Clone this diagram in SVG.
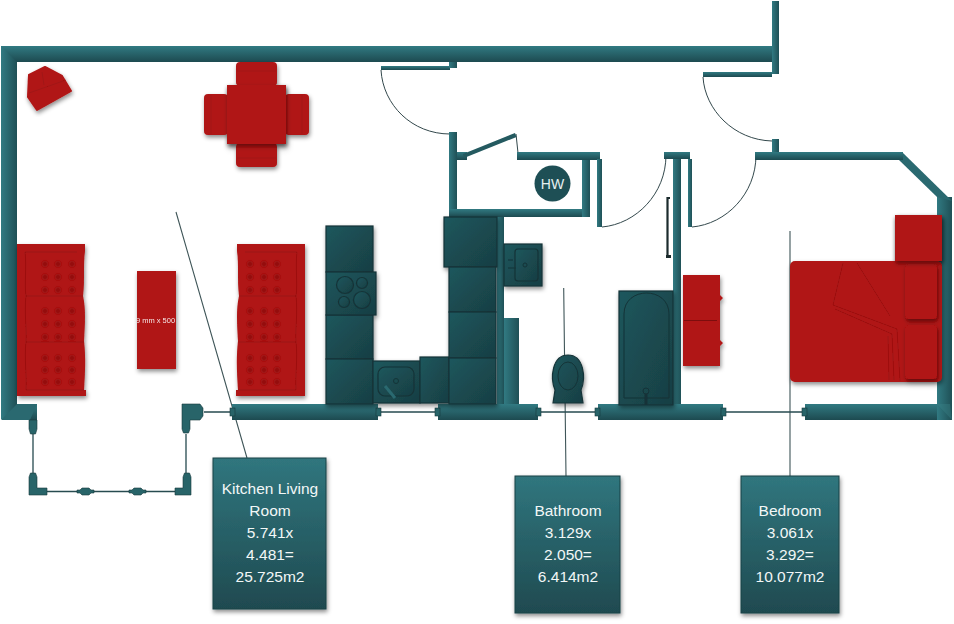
<svg xmlns="http://www.w3.org/2000/svg" width="954" height="624" viewBox="0 0 954 624">
<style>
.wh{fill:url(#wallH)}
.wv{fill:url(#wallV)}
.bev{fill:#3a8188;opacity:.4}
.red{fill:#b01414}
.redl{fill:none;stroke:#7d0c0c;stroke-width:1}
.cab{fill:url(#cab);stroke:#143337;stroke-width:1.2}
.cabl{fill:none;stroke:#143337;stroke-width:1}
.thin{fill:none;stroke:#274b50;stroke-width:1.3}
.arc{fill:none;stroke:#33484c;stroke-width:1}
.lead{fill:none;stroke:#3f5558;stroke-width:1.1}
.lbl{font-family:"Liberation Sans",Arial,sans-serif;font-size:15.500px;fill:#f2f7f7;text-anchor:middle}
.box{fill:url(#lab);stroke:#1b4247;stroke-width:1}
.joint{fill:#286469;stroke:#17393d;stroke-width:.6}
</style>
<defs>
<linearGradient id="wallH" x1="0" y1="0" x2="0" y2="1"><stop offset="0" stop-color="#317a82"/><stop offset="1" stop-color="#1d4a50"/></linearGradient>
<linearGradient id="wallV" x1="0" y1="0" x2="1" y2="0"><stop offset="0" stop-color="#317a82"/><stop offset="1" stop-color="#1f5056"/></linearGradient>
<linearGradient id="cab" x1="0" y1="0" x2="1" y2="1"><stop offset="0" stop-color="#1d575d"/><stop offset="1" stop-color="#183e43"/></linearGradient>
<linearGradient id="lab" x1="0" y1="0" x2="0" y2="1"><stop offset="0" stop-color="#30767e"/><stop offset="1" stop-color="#1f4a50"/></linearGradient>
<filter id="sh" x="-15%" y="-15%" width="130%" height="130%"><feDropShadow dx="1" dy="2.500" stdDeviation="2" flood-color="#000" flood-opacity=".45"/></filter>
<filter id="soft" x="-20%" y="-20%" width="140%" height="140%"><feGaussianBlur stdDeviation="1"/></filter>
<clipPath id="tableClip"><rect x="137" y="271" width="39" height="98"/></clipPath>
<g id="sofa">
<path class="red" d="M0 0H68V7C66 20 68 35 66 52C69 65 68 80 67 97C69 115 68 130 67 146H69V152H0Z"/>
<path class="redl" d="M8 8H60M8 8C10 25 7 38 9 52C7 70 10 84 9 98C7 115 10 130 9 146H67M9 52H66M9 98H67" stroke-opacity=".4"/>
<g fill="#7d0c0c" opacity=".55" filter="url(#soft)">
<circle cx="28" cy="20" r="3"/><circle cx="41" cy="20" r="3"/><circle cx="55" cy="20" r="3"/>
<circle cx="28" cy="33" r="3"/><circle cx="41" cy="33" r="3"/><circle cx="55" cy="33" r="3"/>
<circle cx="28" cy="46" r="3"/><circle cx="41" cy="46" r="3"/><circle cx="55" cy="46" r="3"/>
<circle cx="28" cy="67" r="3"/><circle cx="41" cy="67" r="3"/><circle cx="55" cy="67" r="3"/>
<circle cx="28" cy="80" r="3"/><circle cx="41" cy="80" r="3"/><circle cx="55" cy="80" r="3"/>
<circle cx="28" cy="93" r="3"/><circle cx="41" cy="93" r="3"/><circle cx="55" cy="93" r="3"/>
<circle cx="28" cy="114" r="3"/><circle cx="41" cy="114" r="3"/><circle cx="55" cy="114" r="3"/>
<circle cx="28" cy="126" r="3"/><circle cx="41" cy="126" r="3"/><circle cx="55" cy="126" r="3"/>
<circle cx="28" cy="138" r="3"/><circle cx="41" cy="138" r="3"/><circle cx="55" cy="138" r="3"/>
</g>
</g>
<path id="mid" class="joint" d="M0 2H3L5 0H12L14 2H17V5H14L12 7H5L3 5H0Z"/>
</defs>
<rect width="954" height="624" fill="#fff"/>

<g id="connectors">
<path class="lead" d="M176 212L247 458M563.700 288L566 476M790 231V476"/>
<path class="thin" d="M33 432V474M186 434V474M47 491.500H178M204 412H231M378 412H438M538 412H598M723 412H805"/>
<path class="arc" d="M381 70C383 105 412 134 450 134M703 77C705 110 734 140 772 141M602 227C636 224 666 194 666 155M692 227C726 224 756 194 756 155M516 134L518 153"/>
</g>

<g id="walls">
<rect class="wh" x="1" y="46" width="771" height="16"/>
<rect class="wv" x="1" y="46" width="16" height="373"/>
<path d="M1 46L17 62H60V46Z" class="wh"/>
<rect class="wh" x="17" y="404" width="20" height="16"/>
<path d="M1 420L17 404H37L30 420Z" fill="#2a6970"/>
<rect class="wh" x="232" y="404" width="146" height="16"/>
<rect class="wh" x="438" y="404" width="100" height="16"/>
<rect class="wh" x="598" y="404" width="125" height="16"/>
<rect class="wh" x="805" y="404" width="147" height="16"/>
<rect class="wv" x="937" y="197" width="15" height="223"/>
<path class="bev" d="M952 420L937 404H950Z"/>
<path d="M902 152L952 201L937 197L899 160Z" fill="#2a6970"/>
<rect class="wh" x="755" y="152" width="148" height="8"/>
<rect class="wv" x="772" y="1" width="7" height="73"/>
<rect class="wh" x="703" y="72" width="69" height="5"/>
<rect class="wv" x="772" y="139" width="7" height="13"/>
<rect class="wh" x="381" y="66" width="69" height="4"/>
<rect class="wv" x="449" y="62" width="8" height="6"/>
<rect class="wv" x="449" y="132" width="8" height="85"/>
<rect class="wh" x="449" y="209" width="141" height="8"/>
<rect class="wv" x="582" y="159" width="8" height="58"/>
<rect class="wh" x="517" y="152" width="83" height="8"/>
<rect class="wh" x="457" y="152" width="10" height="8"/>
<path d="M463 154L515 133L516.500 137L464 158Z" fill="#245a60"/>
<rect class="wv" x="597" y="159" width="5" height="68"/>
<rect class="wh" x="664" y="152" width="26" height="7"/>
<rect class="wv" x="673" y="159" width="8" height="245"/>
<rect class="wv" x="688" y="159" width="4" height="68"/>
<rect class="wv" x="497" y="217" width="7" height="187"/>
<rect class="wv" x="504" y="318" width="15" height="86"/>
<path d="M667.500 258V198H670" fill="none" stroke="#1c2b2d" stroke-width="2.200"/>
<rect x="666" y="255" width="5" height="3" fill="#1c2b2d"/>
<path class="joint" d="M29 420H37V429L35.500 434H30.500L29 429Z"/>
<path class="joint" d="M30.500 473H35.500L37 477V488H47V495H29V477Z"/>
<path class="joint" d="M182 404H200L203 408V416L200 420H190V429L188.500 433H183.500L182 429Z"/>
<path class="joint" d="M184.500 473H189.500L191 477V495H175V488H183V477Z"/>
<use href="#mid" x="77" y="488"/>
<use href="#mid" x="129" y="488"/>
<rect class="joint" x="230" y="408" width="5" height="8"/>
<rect class="joint" x="376" y="408" width="5" height="8"/>
<rect class="joint" x="435" y="408" width="5" height="8"/>
<rect class="joint" x="536" y="408" width="5" height="8"/>
<rect class="joint" x="595" y="408" width="5" height="8"/>
<rect class="joint" x="721" y="408" width="5" height="8"/>
<rect class="joint" x="802" y="408" width="5" height="8"/>
</g>

<g id="hw">
<circle cx="552.500" cy="183.500" r="18" fill="#1e4f55"/>
<text x="552.500" y="188.500" font-family="'Liberation Sans',Arial,sans-serif" font-size="14" fill="#e6f0f0" text-anchor="middle">HW</text>
</g>

<g id="kitchen" filter="url(#sh)">
<rect class="cab" x="326" y="226" width="47" height="46"/>
<rect class="cab" x="326" y="315" width="47" height="44"/>
<rect class="cab" x="326" y="359" width="47" height="45"/>
<rect class="cab" x="326" y="272" width="50" height="43"/>
<circle cx="345" cy="285" r="8.500" class="cab"/><circle cx="362" cy="283" r="5.500" class="cab"/><circle cx="344" cy="302" r="5.500" class="cab"/><circle cx="362" cy="300" r="8.500" class="cab"/>
<rect class="cab" x="373" y="361" width="47" height="42"/>
<rect class="cab" x="378" y="367" width="36" height="29" rx="7"/>
<circle cx="396" cy="381" r="2.500" class="cabl"/><path d="M385 386L395 398" stroke="#2a6970" stroke-width="3"/>
<rect class="cab" x="420" y="357" width="29" height="46"/>
<rect class="cab" x="444" y="217" width="53" height="50"/>
<rect class="cab" x="449" y="267" width="47" height="45"/>
<rect class="cab" x="449" y="312" width="47" height="46"/>
<rect class="cab" x="449" y="358" width="47" height="46"/>
<rect class="cab" x="504" y="244" width="38" height="42"/>
<rect class="cab" x="515" y="249" width="23" height="32" rx="3"/>
<circle cx="525" cy="265" r="2" class="cabl"/><path d="M508 260H513M508 268H516" class="cabl"/>
</g>

<g id="bath" filter="url(#sh)">
<rect class="cab" x="619" y="291" width="54" height="114"/>
<path class="cabl" d="M624 398V314C624 286 669 286 669 314V398Z"/>
<circle cx="646" cy="391" r="3" class="cabl"/><path d="M646 394V405" stroke="#143337" stroke-width="3"/>
</g>

<g id="toilet" filter="url(#sh)">
<path class="cab" d="M553 403L555 390C550 378 552 355 568 355C584 355 586 378 581 390L583 403Z"/>
<ellipse cx="568" cy="376" rx="10" ry="14" class="cabl"/>
</g>

<g id="armchair" filter="url(#sh)">
<path class="red" stroke="#b01414" stroke-width="2" stroke-linejoin="round" d="M29 75L45 67L62 76L71 91L37 110L28 97Z"/>
<path class="redl" d="M29 93L66 80M42 72L44 85" stroke-opacity=".3"/>
</g>

<g id="dining" filter="url(#sh)">
<rect class="red" x="236" y="62" width="41" height="24" rx="4"/>
<rect class="red" x="236" y="143" width="41" height="24" rx="4"/>
<rect class="red" x="204" y="94" width="24" height="41" rx="4"/>
<rect class="red" x="285" y="94" width="24" height="41" rx="4"/>
<rect class="red" x="227" y="85" width="59" height="59" filter="url(#sh)"/>
<path class="redl" d="M237 71H276M237 158H276M211 95V134M302 95V134" stroke-opacity=".25"/>
</g>

<g id="sofa-left" filter="url(#sh)"><use href="#sofa" transform="translate(17 244)"/></g>
<g id="sofa-right" filter="url(#sh)"><use href="#sofa" transform="translate(305 244) scale(-1 1)"/></g>

<g id="coffee-table" filter="url(#sh)">
<rect class="red" x="137" y="271" width="39" height="98"/>
<text x="155.500" y="323" clip-path="url(#tableClip)" font-family="'Liberation Sans',Arial,sans-serif" font-size="7.500" fill="#f5e6e6" text-anchor="middle">9 mm x 500</text>
</g>

<g id="wardrobe" filter="url(#sh)">
<path class="red" d="M683 275H720V295L723 298L720 301V340L723 343L720 346V366H683Z"/>
<path class="redl" d="M684 320.500H717"/>
</g>

<g id="bed" filter="url(#sh)">
<rect class="red" x="790" y="261" width="152" height="121" rx="5"/>
<path class="redl" d="M843 263L833 305L897 329L900 381M857 263L890 316M835 309L892 334L894 380M888 336L889 380" stroke-opacity=".4"/>
<rect class="red" x="905" y="264" width="32" height="55" rx="4" filter="url(#sh)"/>
<rect class="red" x="905" y="325" width="32" height="54" rx="4" filter="url(#sh)"/>
<rect class="red" x="895" y="215" width="47" height="46" filter="url(#sh)"/>
</g>

<g id="label-kitchen">
<rect class="box" x="213" y="458" width="113" height="151" filter="url(#sh)"/>
<text class="lbl" x="270" y="494">Kitchen Living</text>
<text class="lbl" x="270" y="516">Room</text>
<text class="lbl" x="270" y="538">5.741x</text>
<text class="lbl" x="270" y="560">4.481=</text>
<text class="lbl" x="270" y="582">25.725m2</text>
</g>
<g id="label-bathroom">
<rect class="box" x="515" y="476" width="105" height="137" filter="url(#sh)"/>
<text class="lbl" x="568" y="516">Bathroom</text>
<text class="lbl" x="568" y="538">3.129x</text>
<text class="lbl" x="568" y="560">2.050=</text>
<text class="lbl" x="568" y="582">6.414m2</text>
</g>
<g id="label-bedroom">
<rect class="box" x="741" y="476" width="98" height="137" filter="url(#sh)"/>
<text class="lbl" x="790" y="516">Bedroom</text>
<text class="lbl" x="790" y="538">3.061x</text>
<text class="lbl" x="790" y="560">3.292=</text>
<text class="lbl" x="790" y="582">10.077m2</text>
</g>
</svg>
